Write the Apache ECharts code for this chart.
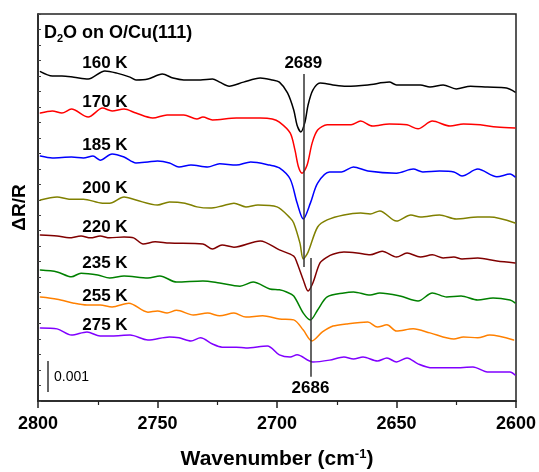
<!DOCTYPE html>
<html><head><meta charset="utf-8">
<script src="https://cdn.jsdelivr.net/npm/echarts@6/dist/echarts.min.js"></script>
<style>html,body{margin:0;padding:0;background:#fff}#c{width:539px;height:472px}</style>
</head><body><div id="c"></div>
<script>
// Temperatures (series names)
const temps = ['160 K', '170 K', '185 K', '200 K', '220 K', '235 K', '255 K', '275 K'];
// Offset spectra, wavenumber (cm-1) and ΔR/R (units of 0.001, offsets included)
const wn160 = [2799,2794,2790,2785,2779,2772,2767,2761.5,2759,2754,2748,2743.5,2739,2732,2727,2724,2720,2714,2707,2702,2699,2695.6,2693,2691.6,2690,2688.3,2687,2685,2682,2676.6,2671,2662,2653,2650,2640,2636,2630.5,2625,2619,2612,2604,2600.4];
const dr160 = [10.64,10.50,10.50,10.46,10.40,10.66,10.59,10.46,10.37,10.40,10.56,10.43,10.37,10.37,10.40,10.30,10.17,10.30,10.43,10.37,10.30,9.95,9.40,8.91,8.69,9.01,9.56,10.04,10.27,10.21,10.17,10.21,10.30,10.21,10.21,10.14,10.21,10.08,10.17,10.14,10.11,9.98];
const wn170 = [2799,2794,2790,2786,2779,2773,2769,2764,2759,2752,2746,2739,2733.5,2731,2727,2717,2707,2702,2699,2694.5,2692.5,2691,2689.5,2687.4,2685.3,2683,2679,2673.6,2669,2665,2660,2653,2645.6,2641,2635,2627.6,2622,2615,2608,2600.4];
const dr170 = [9.30,9.37,9.30,9.43,9.17,9.46,9.37,9.43,9.30,9.14,9.24,9.24,9.11,9.17,9.08,9.14,9.14,9.11,9.01,8.66,8.11,7.56,7.36,7.62,8.33,8.75,8.92,8.92,8.92,9.04,8.88,8.95,8.92,8.79,9.04,8.88,8.95,8.92,8.85,8.82];
const wn185 = [2799,2794,2786,2781,2777,2774,2769,2764,2759,2754,2750,2745,2741,2736,2729,2724,2717,2711,2703,2699,2694.5,2691.6,2689,2686,2683,2678,2673,2668,2662,2650,2643,2639,2632,2626,2622.6,2616,2608,2602.5,2600.4];
const dr185 = [7.91,7.85,7.88,7.85,7.91,7.78,7.98,7.88,7.69,7.72,7.75,7.69,7.56,7.62,7.56,7.66,7.62,7.72,7.62,7.53,7.17,6.40,5.88,6.40,7.04,7.40,7.40,7.56,7.43,7.36,7.49,7.40,7.43,7.40,7.27,7.49,7.24,7.33,7.24];
const wn200 = [2799,2792,2787,2781,2773,2770,2764,2759,2750,2745,2738.5,2733.5,2728,2723,2718,2713,2708,2700,2694.5,2693,2690.4,2689,2687,2683,2679,2672,2665,2661,2657,2650,2644,2640,2632,2625,2616,2611,2600.4];
const dr200 = [6.49,6.59,6.52,6.52,6.39,6.39,6.59,6.49,6.33,6.43,6.39,6.27,6.23,6.30,6.39,6.27,6.33,6.27,5.91,5.75,5.10,4.59,4.81,5.62,5.85,6.01,6.07,6.04,6.14,5.81,6.01,5.94,6.01,5.88,5.94,5.94,5.75];
const wn220 = [2799,2792,2787,2782,2778,2774,2770,2764,2760,2756,2751,2745,2731,2727,2723,2718,2707,2699,2693,2691.6,2689,2687,2685,2682,2679,2676.6,2672,2666.5,2661,2656,2650,2645.6,2640,2635,2630.5,2626,2622.6,2616,2608,2600.4];
const dr220 = [5.36,5.33,5.27,5.33,5.27,5.33,5.27,5.30,5.27,5.07,5.14,5.10,5.07,4.91,5.04,4.97,5.17,4.88,4.68,4.46,3.91,3.55,3.81,4.46,4.65,4.74,4.81,4.78,4.72,4.84,4.65,4.78,4.65,4.72,4.62,4.65,4.59,4.62,4.52,4.46];
const wn235 = [2799,2792,2786,2782,2775,2770,2764,2754,2749,2742,2731,2724,2715.5,2710,2703,2699,2696,2693,2689,2686,2683,2679,2672,2668,2661,2657,2648.5,2641,2635,2629,2623,2616,2609.6,2602.5,2600.4];
const dr235 = [4.23,4.17,4.01,4.13,4.07,3.97,4.04,3.97,4.04,3.84,3.88,3.81,3.71,3.84,3.62,3.59,3.52,3.39,2.84,2.62,2.94,3.36,3.49,3.52,3.42,3.49,3.39,3.23,3.49,3.36,3.39,3.26,3.33,3.26,3.17];
const wn255 = [2799,2792,2785,2779.5,2774,2769,2762,2754,2750,2746,2742,2735,2729,2724,2718,2713,2706,2699,2693,2689,2685.4,2681,2676.6,2671,2662,2658,2654,2650,2643,2636,2626,2622,2616,2611,2601];
const dr255 = [3.36,3.29,3.16,3.10,3.10,3.04,3.16,2.87,2.91,2.84,2.93,2.78,2.84,2.75,2.84,2.71,2.75,2.65,2.62,2.29,1.94,2.23,2.42,2.49,2.55,2.39,2.46,2.26,2.33,2.20,2.00,2.07,2.04,2.13,1.97];
const wn275 = [2799,2792,2786,2779.5,2774,2769,2761.5,2754,2745,2741,2736,2732,2727,2723,2717,2713,2704,2699,2694.5,2691.6,2685,2678,2672,2668,2664,2658,2654,2650,2645.6,2641,2635,2626,2618,2612,2602.5,2600.4];
const dr275 = [2.36,2.33,2.13,2.23,2.10,2.10,2.13,1.97,2.07,2.04,1.94,2.04,1.84,1.74,1.74,1.71,1.78,1.49,1.42,1.49,1.26,1.32,1.42,1.36,1.42,1.29,1.39,1.26,1.39,1.20,1.07,1.07,1.10,0.94,0.94,0.84];
// Peak positions (cm-1)
const peaks = [2689, 2686];
const peakLabels = ['2689', '2686'];
// x tick labels
const xTicks = [2800, 2750, 2700, 2650, 2600];
// scale bar size (units of 0.001)
const scaleBar = 1;
const scaleText = '0.001';

const wns = [wn160, wn170, wn185, wn200, wn220, wn235, wn255, wn275];
const drs = [dr160, dr170, dr185, dr200, dr220, dr235, dr255, dr275];
const colors = ['#000000', '#ff0000', '#0000ff', '#808000', '#800000', '#008000', '#ff8000', '#8000ff'];
// label anchor layout
const labelWn = 2772;
const labelY = [10.92, 9.66, 8.27, 6.88, 5.62, 4.46, 3.39, 2.45];
const FONT = '"Liberation Sans", Arial, Helvetica, sans-serif';

const series = wns.map((w, k) => ({
  name: temps[k], type: 'line', smooth: 0.3, symbol: 'none', z: 3,
  lineStyle: { color: colors[k], width: 1.5, join: 'round', cap: 'round' },
  data: w.map((x, i) => [x, drs[k][i]])
}));

const lblBase = { show: true, color: '#000', textBorderWidth: 0, textShadowBlur: 0, opacity: 1, fontFamily: FONT };
const lineStyle = { color: '#333', width: 1.5, type: 'solid' };
series.push({
  type: 'scatter', symbolSize: 1, itemStyle: { opacity: 0 }, z: 5, silent: true,
  data: temps.map((t, i) => ({ value: [labelWn, labelY[i]], name: t })),
  label: Object.assign({}, lblBase, { position: 'inside', formatter: p => p.name, fontWeight: 'bold', fontSize: 17 }),
  markLine: {
    symbol: 'none', silent: true, animation: false, label: { show: false }, lineStyle,
    data: [
      [{ coord: [peaks[0], 10.56] }, { coord: [peaks[0], 4.33] }],
      [{ coord: [peaks[1], 4.62] }, { coord: [peaks[1], 0.78] }],
      [{ coord: [2796, 0.29] }, { coord: [2796, 0.29 + scaleBar] }]
    ]
  }
});
series.push({
  type: 'scatter', symbolSize: 1, itemStyle: { opacity: 0 }, z: 5, silent: true,
  data: [{ value: [peaks[0], 10.92], name: peakLabels[0] }, { value: [peaks[1], 0.42], name: peakLabels[1] }],
  label: Object.assign({}, lblBase, { position: 'inside', formatter: p => p.name, fontWeight: 'bold', fontSize: 17 })
});
series.push({
  type: 'scatter', symbolSize: 1, itemStyle: { opacity: 0 }, z: 5, silent: true,
  data: [{ value: [2796, 0.78], name: scaleText }],
  label: Object.assign({}, lblBase, { position: 'right', distance: 6, formatter: p => p.name, fontSize: 14 })
});

const chart = echarts.init(document.getElementById('c'), null, { renderer: 'canvas' });
chart.setOption({
  animation: false,
  backgroundColor: '#fff',
  title: {
    text: '{a|D}{s|2}{a|O on O/Cu(111)}', left: 39, top: 18,
    textStyle: { rich: {
      a: { fontSize: 18, fontWeight: 'bold', color: '#000', fontFamily: FONT },
      s: { fontSize: 11, fontWeight: 'bold', color: '#000', fontFamily: FONT, padding: [10, 0, 0, 0] }
    } }
  },
  grid: { left: 38, right: 23, top: 14, bottom: 71, outerBoundsMode: 'none', containLabel: false, show: true, borderColor: '#222', borderWidth: 1.5, backgroundColor: 'transparent' },
  xAxis: {
    type: 'value', min: 2600, max: 2800, interval: 50, inverse: true,
    axisLine: { show: true, lineStyle: { color: '#222', width: 1.5 } },
    axisTick: { show: true, inside: false, length: 7, lineStyle: { color: '#222', width: 1.5 } },
    minorTick: { show: true, splitNumber: 2, length: 4, lineStyle: { color: '#222', width: 1.2 } },
    splitLine: { show: false },
    axisLabel: { margin: 14, color: '#000', fontSize: 18, fontWeight: 'bold', fontFamily: FONT,
      formatter: v => xTicks.includes(v) ? String(v) : '' },
    name: '{a|Wavenumber (cm}{s|-1}{a|)}', nameLocation: 'middle', nameGap: 47,
    nameTextStyle: { rich: {
      a: { fontSize: 21, fontWeight: 'bold', color: '#000', fontFamily: FONT },
      s: { fontSize: 13, fontWeight: 'bold', color: '#000', fontFamily: FONT, padding: [0, 0, 10, 0] }
    } }
  },
  yAxis: {
    type: 'value', min: 0, max: 12.5, interval: 0.5,
    axisLine: { show: true, lineStyle: { color: '#222', width: 1.5 } },
    axisTick: { show: true, inside: true, length: 3, lineStyle: { color: '#444', width: 1 } },
    splitLine: { show: false },
    axisLabel: { show: false },
    name: 'ΔR/R', nameLocation: 'middle', nameRotate: 90, nameGap: 9,
    nameTextStyle: { fontSize: 19, fontWeight: 'bold', color: '#000', fontFamily: FONT }
  },
  series
});
</script>
</body></html>
